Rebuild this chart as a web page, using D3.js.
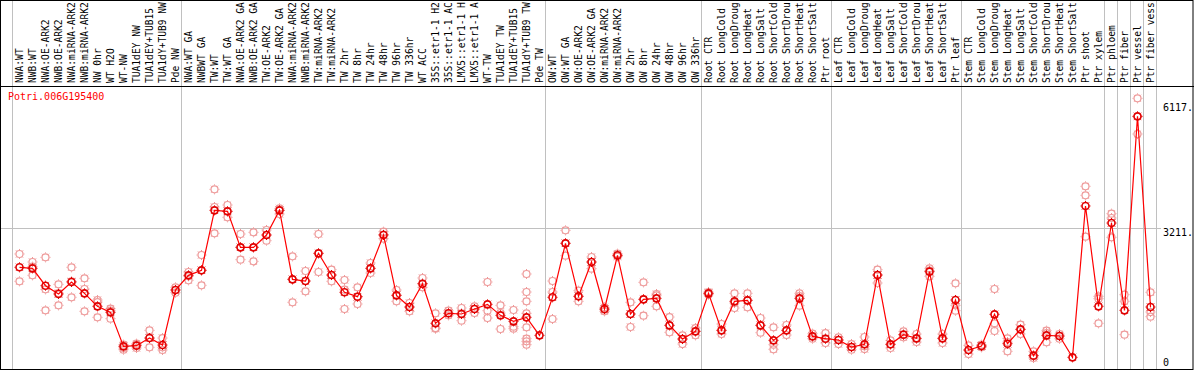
<!DOCTYPE html>
<html><head><meta charset="utf-8">
<script src="https://cdn.jsdelivr.net/npm/d3@7"></script>
<style>
html,body{margin:0;padding:0;background:#fff;}
svg{display:block;}
text{font-family:"DejaVu Sans Mono",monospace;font-size:10px;}
</style></head>
<body><svg id="c" width="1194" height="370"></svg>
<script>
const title = "Potri.006G195400";
const categories = ["NWA:WT","NWB:WT","NWA:OE-ARK2","NWB:OE-ARK2","NWA:miRNA-ARK2","NWB:miRNA-ARK2","NW 0hr","WT H2O","WT-NW","TUA1dEY NW","TUA1dEY+TUB15 NW","TUA1dY+TUB9 NW","Pde NW",
"NWA:WT GA","NWBWT GA","TW:WT","TW:WT GA","NWA:OE-ARK2 GA","NWB:OE-ARK2 GA","TW:OE-ARK2","TW:OE-ARK2 GA","NWA:miRNA-ARK2 GA","NWB:miRNA-ARK2 GA","TW:miRNA-ARK2","TW:miRNA-ARK2 GA","TW 2hr","TW 8hr","TW 24hr","TW 48hr","TW 96hr","TW 336hr","WT ACC","35S::etr1-1 H2O","35S::etr1-1 ACC","LMX5::etr1-1 H2O","LMX5::etr1-1 ACC","WT-TW","TUA1dEY TW","TUA1dEY+TUB15 TW","TUA1dY+TUB9 TW","Pde TW",
"OW:WT","OW:WT GA","OW:OE-ARK2","OW:OE-ARK2 GA","OW:miRNA-ARK2","OW:miRNA-ARK2 GA","OW 2hr","OW 8hr","OW 24hr","OW 48hr","OW 96hr","OW 336hr",
"Root CTR","Root LongCold","Root LongDrought","Root LongHeat","Root LongSalt","Root ShortCold","Root ShortDrought","Root ShortHeat","Root ShortSalt","Ptr root",
"Leaf CTR","Leaf LongCold","Leaf LongDrought","Leaf LongHeat","Leaf LongSalt","Leaf ShortCold","Leaf ShortDrought","Leaf ShortHeat","Leaf ShortSalt","Ptr leaf",
"Stem CTR","Stem LongCold","Stem LongDrought","Stem LongHeat","Stem LongSalt","Stem ShortCold","Stem ShortDrought","Stem ShortHeat","Stem ShortSalt",
"Ptr shoot","Ptr xylem","Ptr phloem","Ptr fiber","Ptr vessel","Ptr fiber vessel"];
const means = [2307,2283,1881,1688,1966,1703,1402,1263,474,490,667,505,1781,
2121,2237,3628,3605,2770,2770,3056,3628,2028,1989,2631,2128,1727,1626,2283,3056,1657,1386,1927,1008,1240,1224,1340,1448,1193,1054,1147,729,
1611,2863,1634,2430,1340,2585,1224,1564,1587,961,644,822,
1703,845,1518,1541,961,613,845,1587,706,652,
621,459,521,2128,521,745,660,2206,660,1549,
389,482,1216,536,868,258,729,714,219,
3729,1402,3334,1309,5808,1386];
const replicates = [[2616,1982],[2430,2322,2121],[2538,1796,1309],[1912,1711,1425],[2307,1982,1611],[2051,1804,1286],[1549,1502,1147],[1348,1301,1116],[513,436,397],[536,513,436],[845,667,451],[667,451,389],[1842,1781,1719],
[2198,2098,2005],[2592,2237,1889],[4115,3705,3095],[3752,3605,3466],[3079,2770,2484],[3118,2770,2445],[3172,3056,2925],[3674,3628,3543],[2561,2028,1495],[2221,1989,1750],[3079,2631,2198],[2252,2128,1982],[2013,1788,1340],[1842,1626,1456],[2407,2283,2175],[3133,3064,2971],[1781,1657,1518],[1479,1386,1286],[2059,1927,1842],[1240,899,884],[1301,1240,1193],[1363,1240,1069],[1402,1340,1247],[1966,1301,1131],[1425,1247,876],[1317,930,884],[2152,1734,1518,1240,915,652,590,513],[],
[1989,1734,1108],[3164,2863,2577],[1765,1634,1518],[2546,2430,2275],[1379,1325,1286],[2623,2585,2554],[1495,1224,923],[1958,1564,1185],[1688,1657,1402],[1154,961,799],[729,644,528],[899,822,729],
[1734,1703,1672],[992,845,760],[1703,1479,1363],[1703,1541,1379],[1131,961,791],[915,513,405],[969,845,737],[1703,1641,1417],[768,706,652],[783,652,552],
[683,621,528],[528,459,397],[691,474,412],[2252,2128,1943],[613,521,436],[822,745,683],[760,652,575],[2283,2229,2098],[760,660,552],[1935,1425,1301],
[497,389,296],[513,482,451],[1804,1008,830],[660,575,358],[977,868,760],[358,258,204],[838,783,567],[760,714,652],[],
[4185,3976,3017],[1634,1580,1008],[3551,3450,3002],[1672,1518,745],[6225,5800,5398],[1727,1270,1162]];
const groupEnds = ["Pde NW","Pde TW","OW 336hr","Ptr root","Ptr leaf","Ptr xylem","Ptr phloem","Ptr fiber","Ptr vessel","Ptr fiber vessel"];
const yTicks = [6117, 3211, 0];
const yTickLabels = ["6117.", "3211.", "0"];
const gridValues = [3211];
const labelMaxChars = 14;

const W = 1194, H = 370, headerY = 86.5, bottomY = 369.5;
const svg = d3.select("#c");
const x = d3.scalePoint().domain(categories).range([19.5, 1150.5]);
const y = d3.scaleLinear().domain([0, 6117]).range([366.8, 103]);

// vertical separators
const sepX = [x(categories[0]) - 8].concat(groupEnds.map(c => x(c) + 5));
svg.append("g").selectAll("line").data(sepX).join("line")
  .attr("x1", d => Math.round(d) + 0.5).attr("x2", d => Math.round(d) + 0.5)
  .attr("y1", 0).attr("y2", bottomY).attr("stroke", "#c0c0c0").attr("stroke-width", 1);

// horizontal gridline
svg.append("g").selectAll("line").data(gridValues).join("line")
  .attr("x1", 1).attr("x2", 1161).attr("y1", d => Math.round(y(d)) + 0.5).attr("y2", d => Math.round(y(d)) + 0.5)
  .attr("stroke", "#c0c0c0");

// frame
svg.append("rect").attr("x", 0.5).attr("y", 0.5).attr("width", W - 1.5).attr("height", bottomY - 0.5)
  .attr("fill", "none").attr("stroke", "#000");
svg.append("line").attr("x1", 0).attr("x2", W).attr("y1", headerY).attr("y2", headerY).attr("stroke", "#000");

// header labels (shown up to 14 characters, as in the reference)
svg.append("g").selectAll("text").data(categories).join("text")
  .attr("transform", d => `translate(${x(d) + 3.5},83) rotate(-90)`)
  .style("font-size", "9.6px")
  .attr("fill", "#000").text(d => d.slice(0, labelMaxChars));

// title
svg.append("text").attr("x", 8).attr("y", 100).attr("fill", "#ff0000").text(title);

// y tick labels
svg.append("g").selectAll("text").data(yTicks).join("text")
  .attr("x", 1163).attr("y", d => Math.min(y(d) + 7.5, 366))
  .attr("fill", "#000").text((d, i) => yTickLabels[i]);

// marker shape: circle with small ticks
function marker(g, color, sw) {
  g.append("circle").attr("r", 3.5).attr("fill", "none").attr("stroke", color).attr("stroke-width", sw);
  g.append("path").attr("d", "M0,-5V-4M0,4V5M-5,0H-4M4,0H5M-3.6,-3.6l0.7,0.7M3.6,-3.6l-0.7,0.7M-3.6,3.6l0.7,-0.7M3.6,3.6l-0.7,-0.7")
    .attr("stroke", color).attr("stroke-width", 1).attr("fill", "none");
}

// replicates
const repPts = [];
categories.forEach((c, i) => replicates[i].forEach(v => repPts.push({c, v})));
svg.append("g").selectAll("g").data(repPts).join("g")
  .attr("transform", d => `translate(${x(d.c)},${y(d.v)})`)
  .each(function() { marker(d3.select(this), "#ee9a9a", 1.2); });

// mean line
const line = d3.line().x((d, i) => x(categories[i])).y(d => y(d));
svg.append("path").datum(means).attr("d", line).attr("fill", "none").attr("stroke", "#ff0000").attr("stroke-width", 1.2);

// mean markers
svg.append("g").selectAll("g").data(means).join("g")
  .attr("transform", (d, i) => `translate(${x(categories[i])},${y(d)})`)
  .each(function() { marker(d3.select(this), "#e00000", 1.6); });
</script></body></html>
